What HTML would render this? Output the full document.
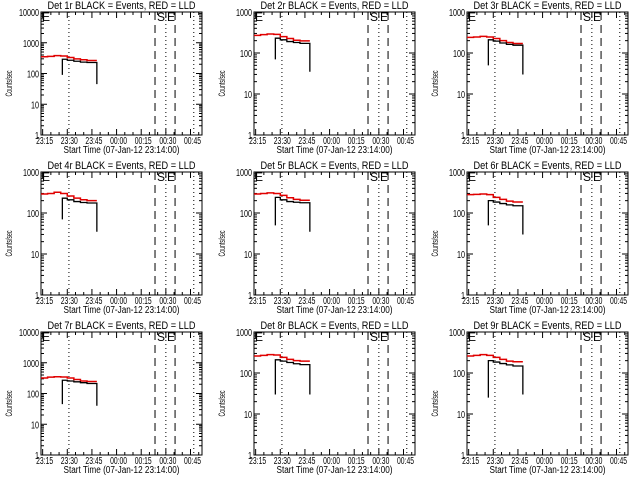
<!DOCTYPE html>
<html><head><meta charset="utf-8"><style>
html,body{margin:0;padding:0;background:#fff;}
svg{display:block;font-family:"Liberation Sans",sans-serif;}
</style></head><body>
<svg id="c" width="640" height="480" xmlns="http://www.w3.org/2000/svg"></svg>
<script>
const detNames = ["1r","2r","3r","4r","5r","6r","7r","8r","9r"];
const decades = [4,3,3,3,3,3,4,3,3];
const redTimes = [0,4,8,12,16,20,24,28,34];
const redVals = [
 [350,360,380,370,330,300,280,265,260],
 [270,280,290,285,250,225,205,198,195],
 [240,245,255,245,225,200,180,170,165],
 [290,300,320,300,260,230,210,200,190],
 [290,300,310,300,270,235,215,205,200],
 [280,285,290,280,240,215,195,185,180],
 [320,340,350,345,320,285,255,245,240],
 [260,270,280,275,240,215,200,195,190],
 [260,270,280,270,240,215,195,188,185]
];
const blackTimes = [13,16,20,24,28,34];
const blackVals = [
 [290,270,250,235,228,225],
 [230,210,190,180,172,170],
 [210,195,175,162,155,148],
 [230,210,190,180,175,170],
 [240,210,190,183,178,172],
 [200,185,170,158,150,142],
 [270,255,240,225,212,210],
 [210,195,180,168,160,155],
 [200,185,170,158,148,140]
];
const startSpike = [90,70,50,70,50,50,45,30,25];
const endSpike = [45,35,30,35,35,30,40,30,30];
const xTickLabels = ["23:15","23:30","23:45","00:00","00:15","00:30","00:45"];
const xTickMins = [1,16,31,46,61,76,91];
const dottedMins = [17,76,93];
const dashedMins = [69.4,81.6];

const svg = document.getElementById('c');
const NS = "http://www.w3.org/2000/svg";
function mk(tag, attrs, parent){const e=document.createElementNS(NS,tag);for(const k in attrs)e.setAttribute(k,attrs[k]);(parent||svg).appendChild(e);return e;}

const BL=41, BR=202, BT=12, BB=135, XMAX=98;
for(let p=0;p<9;p++){
  const ox=(p%3)*213, oy=Math.floor(p/3)*160;
  const g=mk('g',{transform:`translate(${ox},${oy})`});
  
  
  const dec=decades[p];
  const xs=m=>BL+(BR-BL)*m/XMAX;
  const ys=v=>BB-(BB-BT)*Math.log10(v)/dec;
  const t=mk('text',{x:(BL+BR)/2,y:9,'font-size':11,'text-anchor':'middle',fill:'#000',textLength:148,lengthAdjust:'spacingAndGlyphs'},g);
  t.textContent='Det '+detNames[p]+' BLACK = Events, RED = LLD';
  
  
  const box=mk('rect',{x:BL,y:BT,width:BR-BL,height:BB-BT,fill:'none',stroke:'#000','stroke-width':1},g);
  
  
  for(let d=0;d<=dec;d++){
    const y=ys(Math.pow(10,d));
    mk('line',{x1:BL,x2:BL+6,y1:y,y2:y,stroke:'#000'},g);
    mk('line',{x1:BR-6,x2:BR,y1:y,y2:y,stroke:'#000'},g);
    const s=String(Math.pow(10,d));
    const lb=mk('text',{x:BL-2,y:y+4,'font-size':10,'text-anchor':'end',textLength:4*s.length,lengthAdjust:'spacingAndGlyphs'},g);
    lb.textContent=s;
    
    
    if(d<dec){for(let k=2;k<10;k++){const yy=ys(k*Math.pow(10,d));
      mk('line',{x1:BL,x2:BL+3,y1:yy,y2:yy,stroke:'#000'},g);
      mk('line',{x1:BR-3,x2:BR,y1:yy,y2:yy,stroke:'#000'},g);}}
  }
  xTickMins.forEach((m,i)=>{
    const x=xs(m);
    mk('line',{x1:x,x2:x,y1:BB,y2:BB-6,stroke:'#000'},g);
    mk('line',{x1:x,x2:x,y1:BT,y2:BT+6,stroke:'#000'},g);
    for(let k=1;k<3;k++){const xm=xs(m+5*k);if(xm<BR){
      mk('line',{x1:xm,x2:xm,y1:BB,y2:BB-3,stroke:'#000'},g);
      mk('line',{x1:xm,x2:xm,y1:BT,y2:BT+3,stroke:'#000'},g);}}
    const lb=mk('text',{x:x+2,y:BB+9,'font-size':10,'text-anchor':'middle',textLength:17,lengthAdjust:'spacingAndGlyphs'},g);
    lb.textContent=xTickLabels[i];
    
    
  });
  const xt=mk('text',{x:(BL+BR)/2,y:BB+18,'font-size':10,'text-anchor':'middle',textLength:116,lengthAdjust:'spacingAndGlyphs'},g);
  xt.textContent='Start Time (07-Jan-12 23:14:00)';
  
  
  const yt=mk('text',{x:0,y:0,'font-size':9,'text-anchor':'middle',textLength:26,lengthAdjust:'spacingAndGlyphs',transform:`translate(12,${(BT+BB)/2+10}) rotate(-90)`},g);
  yt.textContent='Counts/sec';
  
  
  dottedMins.forEach(m=>{const l=mk('line',{x1:xs(m),x2:xs(m),y1:BT,y2:BB,stroke:'#000','stroke-dasharray':'1,3'},g);
    });
  dashedMins.forEach(m=>{const l=mk('line',{x1:xs(m),x2:xs(m),y1:BT,y2:BB,stroke:'#000','stroke-dasharray':'8,5'},g);
    });
  [['E',BL+1],['S',xs(dashedMins[0])+2],['E',xs(dashedMins[1])-8]].forEach(([s,x])=>{
    const e=mk('text',{x:x,y:BT+9,'font-size':12},g);e.textContent=s;
    });
  let d='';
  redVals[p].forEach((v,i)=>{if(i===redVals[p].length-1)return;const y=ys(v);
    d+=(i===0?'M':'L')+xs(redTimes[i])+','+y+'L'+xs(redTimes[i+1])+','+y;});
  const r=mk('path',{d:d,fill:'none',stroke:'#e00000','stroke-width':1.5},g);
  
  const bv=blackVals[p];
  let db='M'+xs(blackTimes[0])+','+ys(startSpike[p]);
  bv.forEach((v,i)=>{if(i===bv.length-1)return;const y=ys(v);
    db+='L'+xs(blackTimes[i])+','+y+'L'+xs(blackTimes[i+1])+','+y;});
  db+='L'+xs(blackTimes[bv.length-1])+','+ys(endSpike[p]);
  const b=mk('path',{d:db,fill:'none',stroke:'#000','stroke-width':1.3},g);
  
}
</script>
</body></html>
